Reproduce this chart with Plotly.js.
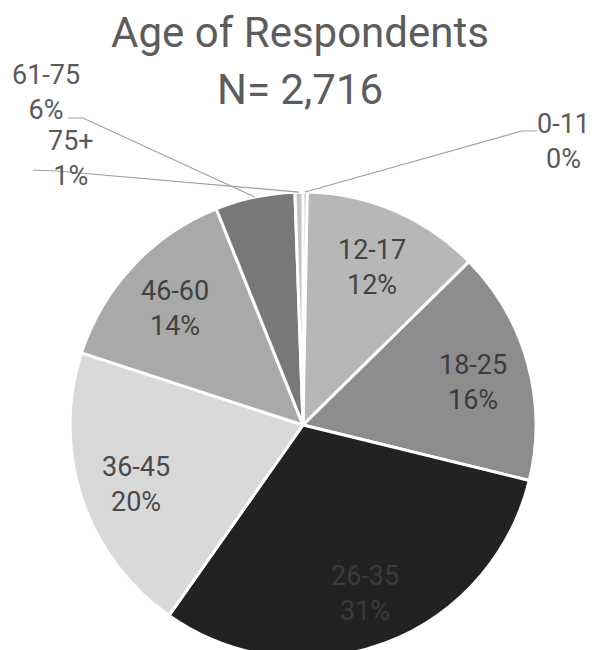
<!DOCTYPE html>
<html>
<head>
<meta charset="utf-8">
<script src="https://cdn.plot.ly/plotly-3.0.1.min.js"></script>
<style>
  html, body { margin: 0; padding: 0; overflow: hidden; background: #ffffff; }
  #chart { width: 592px; height: 666px; }
</style>
</head>
<body>
<div id="chart"></div>
<script>
// ---- data ----
const labels = ['0-11', '12-17', '18-25', '26-35', '36-45', '46-60', '61-75', '75+'];
const counts = [8, 335, 440, 840, 550, 378, 150, 15];
const titleText = 'Age of Respondents';

// ---- styles ----
const sliceColors = ['#9e9e9e', '#b7b7b7', '#8d8d8d', '#222222', '#d9d9d9', '#a9a9a9', '#787878', '#c4c4c4'];
const insideTextColors = ['#444444', '#444444', '#3c3c3c', '#3a3a3a', '#4a4a4a', '#424242', '#444444', '#444444'];
const FONT = 'Roboto, "Noto Sans", sans-serif';

// ---- layout geometry (pixels) ----
const W = 592, H = 666;
const CX = 303, CY = 425, R = 233;
const LABEL_R = 0.755;
const LABEL_DY = 4;
// outside callouts for the very small slices
const callouts = {
  '0-11':  { text: [563, 141], tail: [537, 131], elbow: [522, 131] },
  '61-75': { text: [46, 92],   tail: [68, 118],  elbow: [83, 118] },
  '75+':   { text: [71, 158],  tail: [33, 170],  elbow: [57, 171] }
};

const total = counts.reduce((a, b) => a + b, 0);
const px2x = p => p / W;
const py2y = p => 1 - p / H;

// slice mid angles (clockwise from 12 o'clock), same convention as the pie
const midAngles = [];
let cum = 0;
counts.forEach(c => { midAngles.push((cum + c / 2) / total * 2 * Math.PI); cum += c; });

const annotations = [];
const shapes = [];
labels.forEach((lab, i) => {
  const pct = Math.round(counts[i] / total * 100);
  const txt = lab + '<br>' + pct + '%';
  const a = midAngles[i];
  if (callouts[lab]) {
    const co = callouts[lab];
    annotations.push({
      text: txt, xref: 'paper', yref: 'paper',
      x: px2x(co.text[0]), y: py2y(co.text[1]),
      xanchor: 'center', yanchor: 'middle', showarrow: false,
      font: { family: FONT, size: 27, color: '#5a5a5a' }
    });
    const hx = CX + R * Math.sin(a), hy = CY - R * Math.cos(a);
    shapes.push({
      type: 'path', xref: 'paper', yref: 'paper',
      path: 'M ' + px2x(co.tail[0]) + ',' + py2y(co.tail[1]) +
            ' L ' + px2x(co.elbow[0]) + ',' + py2y(co.elbow[1]) +
            ' L ' + px2x(hx) + ',' + py2y(hy),
      line: { color: '#a0a0a0', width: 1.2 }
    });
  } else {
    const lx = CX + LABEL_R * R * Math.sin(a), ly = CY - LABEL_R * R * Math.cos(a) + LABEL_DY;
    annotations.push({
      text: txt, xref: 'paper', yref: 'paper',
      x: px2x(lx), y: py2y(ly),
      xanchor: 'center', yanchor: 'middle', showarrow: false,
      font: { family: FONT, size: 27, color: insideTextColors[i] }
    });
  }
});

annotations.push({
  text: 'N= ' + total.toLocaleString('en-US'),
  xref: 'paper', yref: 'paper', x: px2x(300), y: py2y(89),
  xanchor: 'center', yanchor: 'middle', showarrow: false,
  font: { family: FONT, size: 42, color: '#5c5c5c' }
});

const trace = {
  type: 'pie',
  labels: labels,
  values: counts,
  sort: false,
  direction: 'clockwise',
  rotation: 0,
  textinfo: 'none',
  hoverinfo: 'label+percent',
  marker: { colors: sliceColors, line: { color: '#ffffff', width: 3 } },
  domain: { x: [(2 * CX - W) / W, 1], y: [(H - (CY + R)) / H, (H - (CY - R)) / H] },
  showlegend: false
};

const layout = {
  width: W, height: H,
  margin: { l: 0, r: 0, t: 0, b: 0 },
  paper_bgcolor: '#ffffff',
  title: {
    text: titleText,
    font: { family: FONT, size: 42, color: '#5c5c5c' },
    x: 300 / W, xanchor: 'center', xref: 'container',
    y: 1 - 32 / H, yanchor: 'middle', yref: 'container'
  },
  annotations: annotations,
  shapes: shapes,
  showlegend: false
};

Plotly.newPlot('chart', [trace], layout, { displayModeBar: false, staticPlot: true });
</script>
</body>
</html>
